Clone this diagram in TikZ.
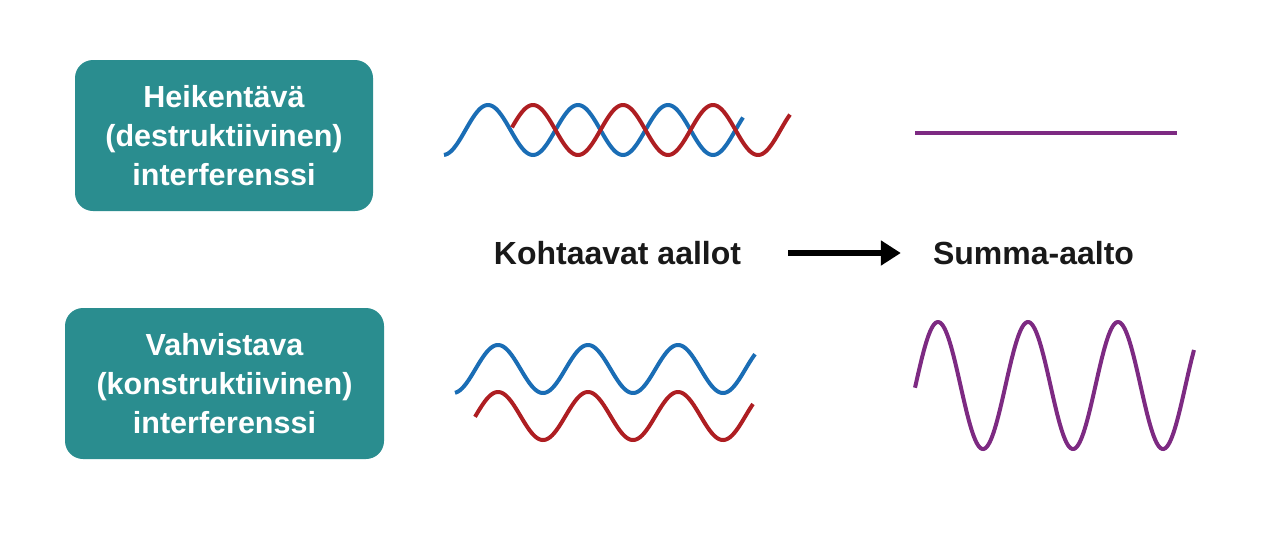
\documentclass[tikz,border=0pt]{standalone}
\usepackage{fontspec}
\setmainfont{Liberation Sans}
\usetikzlibrary{arrows.meta}
\definecolor{teal1}{HTML}{2A8D8F}
\definecolor{wblue}{HTML}{1A6DB5}
\definecolor{wred}{HTML}{AE1E22}
\definecolor{wpurple}{HTML}{7D2A82}
\tikzset{
  box/.style={fill=teal1, rounded corners=18pt, text=white, font=\bfseries\fontsize{30.5}{39}\selectfont, align=center, inner sep=0pt},
  lbl/.style={font=\bfseries\fontsize{32}{36}\selectfont, text=black!90, inner sep=0pt},
  wave/.style={line width=4pt, samples=300},
}
\begin{document}
\begin{tikzpicture}[x=1pt,y=-1pt]
\useasboundingbox (0,0) rectangle (1280,536);
\node[box, minimum width=298pt, minimum height=151pt] (b1) at (224,135.5) {Heikentävä\\(destruktiivinen)\\interferenssi};
\node[box, minimum width=319pt, minimum height=151pt] (b2) at (224.5,383.5) {Vahvistava\\(konstruktiivinen)\\interferenssi};
\node[lbl] (k) at (617.5,253) {Kohtaavat aallot};
\node[lbl] (s) at (1033.5,253) {Summa-aalto};
\draw[line width=6pt, -{Triangle[length=20pt,width=24pt]}, shorten <=47pt, shorten >=32pt] (k.east) -- (s.west);
% destructive
\draw[wave, wblue, domain=444:743] plot (\x, {130+25*cos(4*(\x-443))});
\draw[wave, wred, domain=512:790] plot (\x, {130-25*cos(4*(\x-443))});
\draw[line width=4pt, wpurple] (915,133) -- (1177,133);
% constructive
\draw[wave, wblue, domain=455:755] plot (\x, {369+24*cos(4*(\x-453))});
\draw[wave, wred, domain=475:753] plot (\x, {416+24*cos(4*(\x-453))});
\draw[wave, wpurple, domain=915:1194] plot (\x, {385.5-63.5*cos(4*(\x-938))});
\end{tikzpicture}
\end{document}
